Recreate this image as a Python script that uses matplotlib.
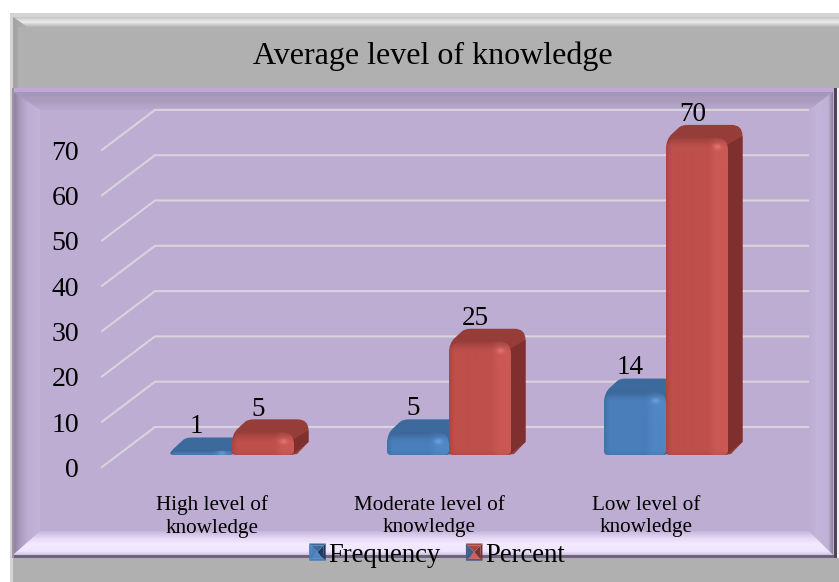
import numpy as np
import matplotlib
matplotlib.use("Agg")
import matplotlib.pyplot as plt
from matplotlib.path import Path
from matplotlib.patches import PathPatch, Polygon, Patch
from matplotlib.colors import to_rgb, LinearSegmentedColormap
from matplotlib.legend_handler import HandlerBase

categories = ["High level of\nknowledge", "Moderate level of\nknowledge", "Low level of\nknowledge"]
frequency = [1, 5, 14]
percent = [5, 25, 70]
y_ticks = [0, 10, 20, 30, 40, 50, 60, 70]
series_names = ["Frequency", "Percent"]
title = "Average level of knowledge"

plt.rcParams["font.family"] = ["Liberation Serif", "DejaVu Serif"]
W_PX, H_PX = 839, 582
fig = plt.figure(figsize=(W_PX / 100, H_PX / 100), dpi=100, facecolor="white")

# ---------- decorative chart-area frame (pixel space) ----------
bg = fig.add_axes([0, 0, 1, 1], zorder=0)
bg.set_xlim(0, W_PX)
bg.set_ylim(H_PX, 0)
bg.axis("off")


def grad(poly, colors, vertical=True, stops=None, z=1):
    poly = np.array(poly, float)
    x0, x1 = poly[:, 0].min(), poly[:, 0].max()
    y0, y1 = poly[:, 1].min(), poly[:, 1].max()
    if stops is None:
        stops = np.linspace(0, 1, len(colors))
    cmap = LinearSegmentedColormap.from_list("g", list(zip(stops, colors)))
    t = np.linspace(0, 1, 256)
    arr = t[:, None] if vertical else t[None, :]
    im = bg.imshow(arr, cmap=cmap, vmin=0, vmax=1, extent=(x0, x1, y1, y0), aspect="auto",
                   origin="upper", zorder=z, interpolation="bilinear")
    p = Polygon(poly, closed=True, transform=bg.transData, fc="none", ec="none")
    bg.add_patch(p)
    im.set_clip_path(p)


L, R, T, PT, PB, B = 13, 835, 17, 88, 557, 582
GRAY = "#B0B0B0"
PURPLE = "#BDADD3"
bg.add_patch(plt.Rectangle((10, 13), W_PX - 10, B - 13, fc="#D4D4D4", ec="none", zorder=0.5))
bg.add_patch(plt.Rectangle((L, T), W_PX - L, B - T, fc=GRAY, ec="none", zorder=0.6))
grad([(L, T), (W_PX, T), (W_PX, 27), (27, 27)], ["#C4C4C4", "#ECECEC", "#B2B2B2"], True)
grad([(L, T), (27, 27), (18, 27), (18, PT), (L, PT)], ["#A2A2A2", "#B0B0B0"], False)
# plot panel
bg.add_patch(plt.Rectangle((836.5, PT), 3, PB - PT + 1, fc="#F2F2F2", ec="none", zorder=0.65))
bg.add_patch(plt.Rectangle((L, PT), R - L, PB - PT, fc=PURPLE, ec="none", zorder=0.7))
bg.add_patch(plt.Rectangle((L, PT), R - L, 4, fc="#BFA8D6", ec="none", zorder=2))
grad([(L, 92), (R - 2, 92), (809, 110), (40, 110)], ["#A595B6", "#AC9DBF", "#B9A9CF"], True)
grad([(L, 92), (40, 110), (40, 531), (L, 555)], ["#8A7C9B", "#A99ABC", "#BDADD3", "#C2B3D8"], False, [0, 0.25, 0.55, 1])
grad([(R - 2, 92), (809, 110), (809, 531), (R - 2, 555)], ["#BDADD3", "#C3B4DA", "#C0B1D6", "#8F8199"], False, [0, 0.35, 0.8, 1])
grad([(L, 555), (40, 531), (809, 531), (R - 2, 555)], ["#C4B6D8", "#E6D9F6", "#F3EAFF", "#EFE5FC", "#CFC2DF"], True, [0, 0.3, 0.55, 0.85, 1])
bg.add_patch(plt.Rectangle((L, 554.5), R - L, 3.5, fc="#6F6480", ec="none", zorder=3))
bg.add_patch(plt.Rectangle((R - 1, 88), 2.5, 470, fc="#4E4558", ec="none", zorder=3))
bg.add_patch(plt.Rectangle((L - 1, 88), 2, 470, fc="#9C93A6", ec="none", zorder=3))

# ---------- data axes: value 0 at bar base, categories 217 px apart ----------
PX_PER_CAT = 217.0
PX_PER_VAL = 4.53
X0_PX, Y0_PX = 232.0, 455.0
ax = fig.add_axes([0, 0, 1, 1], zorder=1)
ax.patch.set_alpha(0)
ax.axis("off")
XL = (-X0_PX / PX_PER_CAT, (W_PX - X0_PX) / PX_PER_CAT)
YL = ((Y0_PX - H_PX) / PX_PER_VAL, Y0_PX / PX_PER_VAL)
sx, sy = 1 / PX_PER_CAT, 1 / PX_PER_VAL

BAR_W, DX, DY, RAD = 62.0, 14.5, 13.0, 12.0
FLOOR_X0, FLOOR_X1 = 102.0, 155.0
RIGHT_X = 808.0
WALL_OFF = 28.0 * sy     # back wall is 28 px above bar base
FRONT_OFF = -12.0 * sy   # front edge is 12 px below bar base
GRID = "#D8D4DC"


def px2x(px):
    return (px - X0_PX) * sx


for v in y_ticks:
    ax.plot([px2x(FLOOR_X0), px2x(FLOOR_X1), px2x(RIGHT_X)],
            [v + FRONT_OFF, v + WALL_OFF, v + WALL_OFF], color=GRID, lw=1.5, zorder=1,
            solid_joinstyle="miter")
    ax.text(px2x(79), v + FRONT_OFF - 0.5 * sy, str(v), ha="right", va="center_baseline", fontsize=20, color="black", zorder=9)


def make_path(pts):
    verts, codes = [], []
    for c in pts:
        if c[0] == "M":
            verts.append(c[1]); codes.append(Path.MOVETO)
        elif c[0] == "L":
            verts.append(c[1]); codes.append(Path.LINETO)
        else:
            verts += [c[1], c[2]]; codes += [Path.CURVE3, Path.CURVE3]
    verts.append(verts[0]); codes.append(Path.CLOSEPOLY)
    return verts, codes


def to_data(verts, xc):
    return [(xc + a * sx, b * sy) for a, b in verts]


def face_image(h, base, hi):
    """front-face shading in a pixel grid (top row first)"""
    ny, nx = max(int(h) + 1, 3), 64
    xs = np.linspace(0, BAR_W, nx)
    ys = np.linspace(h, 0, ny)
    X, Y = np.meshgrid(xs, ys)
    base, hi = np.array(to_rgb(base)), np.array(to_rgb(hi))
    t = np.clip((X - 42) / 8, 0, 1)
    img = base[None, None, :] * (1 - t[..., None]) + hi[None, None, :] * t[..., None]
    edge = 0.90 + 0.10 * np.clip(X / 5, 0, 1)
    d = h - Y
    cap = np.clip(d / min(11, max(h, 1)), 0, 1)
    top = 0.80 + 0.28 * cap - 0.08 * cap ** 4
    low = 0.96 + 0.04 * np.clip(Y / 4, 0, 1)
    img = img * (edge * top * low)[..., None]
    spot = np.exp(-(((X - (BAR_W - 10)) / 4) ** 2 + ((d - min(9, h * 0.5)) / 3) ** 2))
    img = img + spot[..., None] * 0.10
    return np.clip(img, 0, 1)


def bar3d(xc, value, front, hi, top, side, z):
    h = value * PX_PER_VAL
    r = min(RAD, h)
    rb = min(4, h / 2)
    back_r = min(11, h + DY - 8)
    # silhouette including top face
    sil = [("M", (0, rb)), ("L", (0, h - r)), ("Q", (0, h - 1), (6, h + 4)),
           ("L", (DX - 2, h + DY - 3)), ("Q", (DX + 1, h + DY), (DX + 7, h + DY)),
           ("L", (BAR_W + DX - back_r, h + DY)), ("Q", (BAR_W + DX, h + DY), (BAR_W + DX, h + DY - back_r)),
           ("L", (BAR_W + DX, DY)), ("L", (BAR_W + 3, 1)), ("L", (BAR_W - 4, 0)), ("L", (4, 0))]
    v, c = make_path(sil)
    ax.add_patch(PathPatch(Path(to_data(v, xc), c), fc=top, ec="none", zorder=z))
    # side face
    side_pts = [("M", (BAR_W - 2, 0)), ("L", (BAR_W + DX, DY)),
                ("L", (BAR_W + DX, h + DY - back_r)),
                ("L", (BAR_W - 1, h - r * 0.6))]
    v, c = make_path(side_pts)
    ax.add_patch(PathPatch(Path(to_data(v, xc), c), fc=side, ec="none", zorder=z + 0.1))
    # front face with gradient
    fr = [("M", (0, rb)), ("L", (0, h - r)), ("Q", (0, h), (r, h)),
          ("L", (BAR_W - r, h)), ("Q", (BAR_W, h), (BAR_W, h - r)),
          ("L", (BAR_W, rb)), ("Q", (BAR_W, 0), (BAR_W - 6, 0)), ("L", (4, 0)), ("Q", (0, 0), (0, rb))]
    v, c = make_path(fr)
    clip = PathPatch(Path(to_data(v, xc), c), fc="none", ec="none", transform=ax.transData, zorder=z + 0.2)
    ax.add_patch(clip)
    im = ax.imshow(face_image(h, front, hi), extent=(xc, xc + BAR_W * sx, 0, value), aspect="auto",
                   origin="upper", zorder=z + 0.2, interpolation="bilinear")
    im.set_clip_path(clip)


BLUE = dict(front="#4A7EBB", hi="#5086C4", top="#3D6A9C", side="#335A85")
RED = dict(front="#BE4F4B", hi="#CA5854", top="#963D3A", side="#7F302E")
for i, (f, p) in enumerate(zip(frequency, percent)):
    bar3d(i - BAR_W * sx, f, z=3 + i, **BLUE)
    bar3d(i, p, z=3.5 + i, **RED)

for i, (f, p) in enumerate(zip(frequency, percent)):
    ax.text(i - 36 * sx, f + 11.5 * sy, str(f), ha="center", va="bottom", fontsize=19.5, color="black", zorder=9)
    ax.text(i + 26.5 * sx, p + 10.5 * sy, str(p), ha="center", va="bottom", fontsize=19.5, color="black", zorder=9)

for i, lab in enumerate(categories):
    ax.text(i - 20 * sx, -40.5 * sy, lab, ha="center", va="top", fontsize=15.2, linespacing=1.27, color="black", zorder=9)

ax.set_xlim(*XL)
ax.set_ylim(*YL)

fig.text(432.5 / W_PX, 1 - 56 / H_PX, title, ha="center", va="center", fontsize=23, color="black", zorder=9)


class PyramidHandler(HandlerBase):
    def __init__(self, c, l, r, t, b):
        super().__init__()
        self.cols = (c, l, r, t, b)

    def create_artists(self, legend, orig, xd, yd, w, h, fs, trans):
        c, l, rr, t, bb = self.cols
        x0, y0 = -xd, -yd
        x1, y1 = x0 + w, y0 + h
        mx, my = (x0 + x1) / 2, (y0 + y1) / 2
        i = w * 0.12
        quads = [([(x0, y0), (x0 + i, y0 + i), (x0 + i, y1 - i), (x0, y1)], l),
                 ([(x1, y0), (x1 - i, y0 + i), (x1 - i, y1 - i), (x1, y1)], rr),
                 ([(x0, y1), (x0 + i, y1 - i), (x1 - i, y1 - i), (x1, y1)], t),
                 ([(x0, y0), (x0 + i, y0 + i), (x1 - i, y0 + i), (x1, y0)], bb)]
        ii = [(x0 + i, y0 + i), (x1 - i, y0 + i), (x1 - i, y1 - i), (x0 + i, y1 - i)]
        tri = [([ii[0], ii[1], (mx, my)], c), ([ii[1], ii[2], (mx, my)], rr),
               ([ii[2], ii[3], (mx, my)], t), ([ii[3], ii[0], (mx, my)], l)]
        return [Polygon(pts, closed=True, fc=col, ec="none", transform=trans) for pts, col in quads + tri]


h1 = Patch(color="#4A7EBB", label=series_names[0])
h2 = Patch(color="#BE4F4B", label=series_names[1])
leg = fig.legend([h1, h2], series_names, loc="center", bbox_to_anchor=(437 / W_PX, 1 - 555 / H_PX), ncol=2,
                 frameon=False, fontsize=19.2, handlelength=0.62, handleheight=0.62, handletextpad=0.1,
                 columnspacing=0.95, borderpad=0, labelspacing=0,
                 handler_map={h1: PyramidHandler("#4E86C6", "#4A7EBB", "#1E3B5E", "#3D6A9C", "#4A7EBB"),
                              h2: PyramidHandler("#D0605B", "#3F5F8C", "#7F302E", "#A84541", "#3F5F8C")})
leg.set_zorder(10)
fig.savefig("out.png", dpi=100, facecolor="white")
